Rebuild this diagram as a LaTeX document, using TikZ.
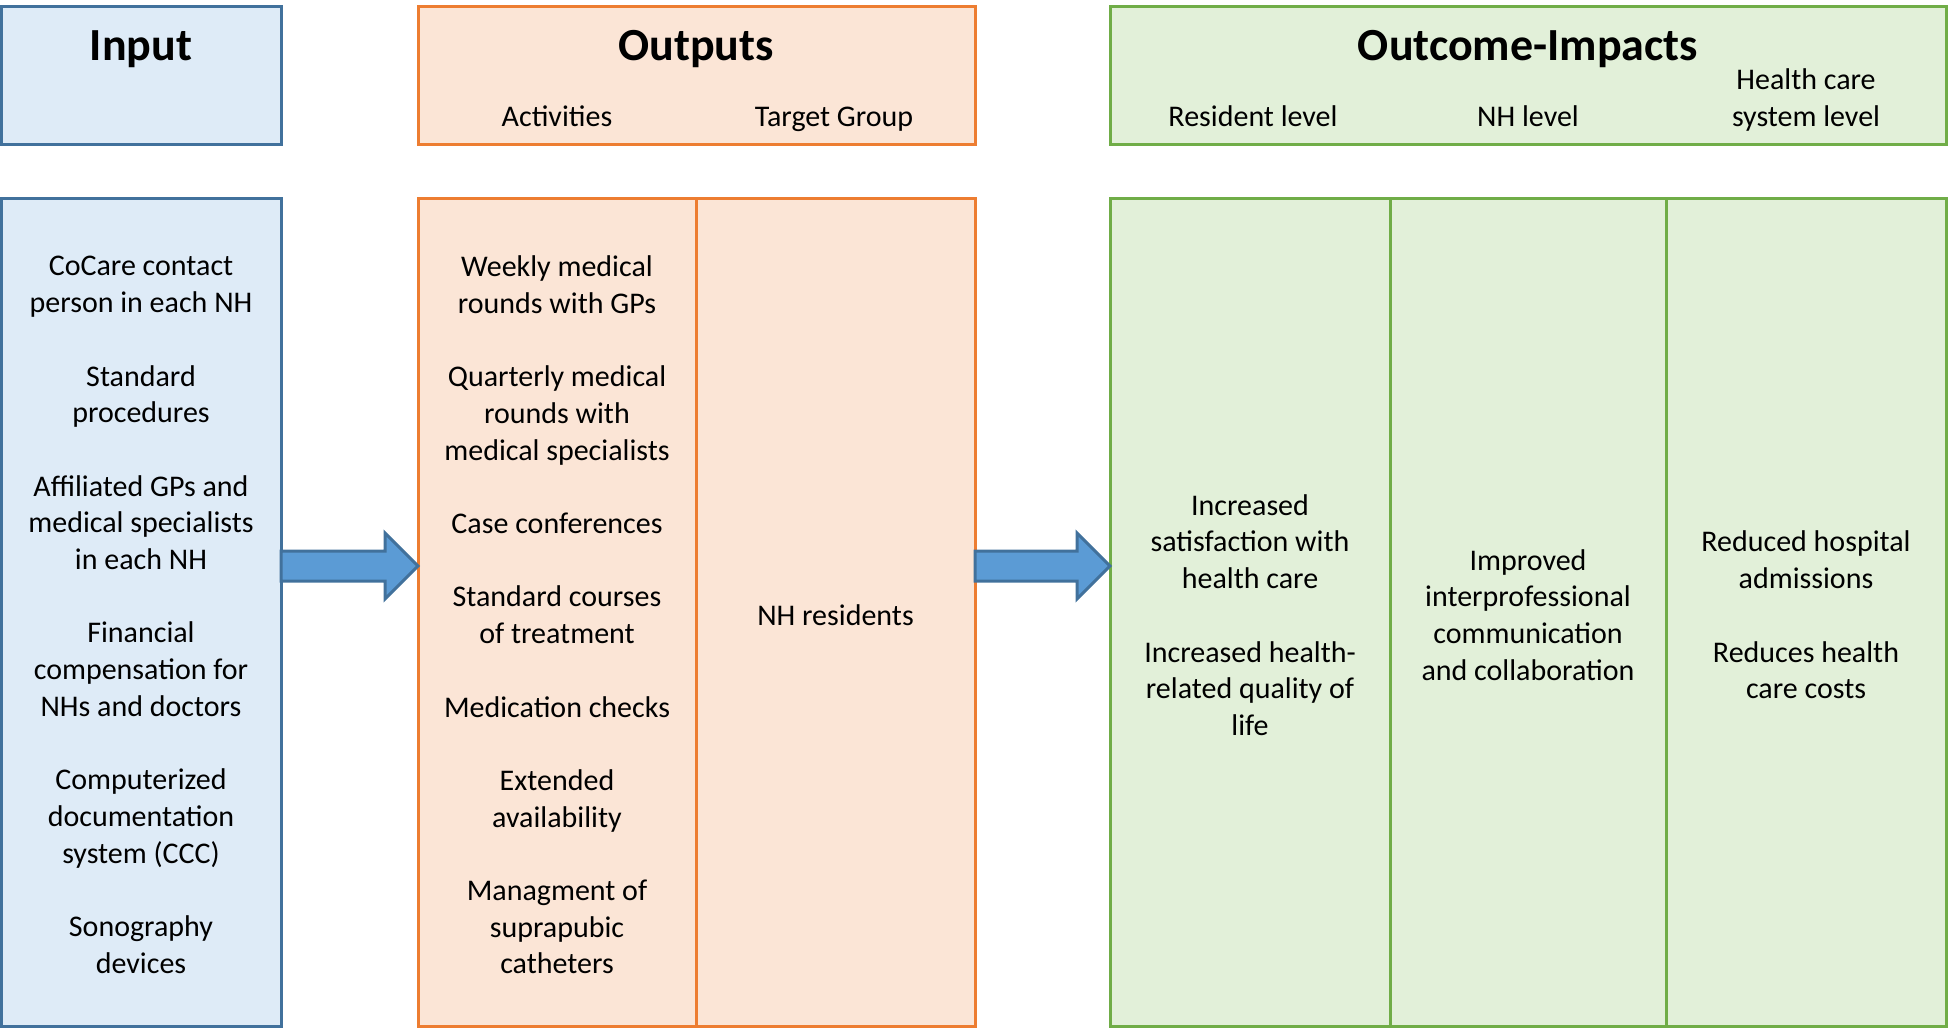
\documentclass[tikz,border=0pt]{standalone}
\usepackage{fontspec}
\setmainfont{Carlito}
\usetikzlibrary{positioning,calc,fit}
\definecolor{InFill}{RGB}{222,235,247}
\definecolor{InEdge}{RGB}{65,113,156}
\definecolor{OutFill}{RGB}{251,229,214}
\definecolor{OutEdge}{RGB}{237,125,49}
\definecolor{ImpFill}{RGB}{226,240,217}
\definecolor{ImpEdge}{RGB}{112,173,71}
\definecolor{ArrBlue}{RGB}{91,155,213}
\tikzset{
  box/.style={draw,line width=1.5pt,inner sep=0pt,outer sep=0pt},
  inbox/.style={box,draw=InEdge,fill=InFill},
  outbox/.style={box,draw=OutEdge,fill=OutFill},
  impbox/.style={box,draw=ImpEdge,fill=ImpFill},
  title/.style={font=\fontsize{23}{28}\selectfont\bfseries,anchor=base},
  txt/.style={font=\fontsize{15}{18.35}\selectfont,align=center},
  head/.style={txt,anchor=base},
  list/.style={txt,yshift=-1.5pt},
  bigarrow/.style={draw=InEdge,fill=ArrBlue,line width=1.5pt,line join=miter},
}

\begin{document}
\begin{tikzpicture}[x=0.5pt,y=-0.5pt]
\useasboundingbox (0,0) rectangle (1953,1029);
% header boxes
\node[inbox,fit={(1,6) (281,144)}] (inhead) {};
\node[outbox,fit={(418,6) (975,144)}] (outhead) {};
\node[impbox,fit={(1110,6) (1946,144)}] (imphead) {};
% body boxes
\node[inbox,fit={(1,198) (281,1026)}] (inbody) {};
\node[outbox,fit={(418,198) (696,1026)}] (actbody) {};
\node[outbox,fit={(696,198) (975,1026)}] (tgbody) {};
\node[impbox,fit={(1110,198) (1390,1026)}] (resbody) {};
\node[impbox,fit={(1390,198) (1666,1026)}] (nhbody) {};
\node[impbox,fit={(1666,198) (1946,1026)}] (sysbody) {};
% header texts
\node[title] (intitle) at (141,60) {Input};
\node[title] (outtitle) at (696,60) {Outputs};
\node[title] (imptitle) at (1528,60) {Outcome-Impacts};
\node[head] (acthead) at (557,126) {Activities};
\node[head] (tghead) at (834,126) {Target Group};
\node[head] (reshead) at (1253,126) {Resident level};
\node[head] (nhhead) at (1528,126) {NH level};
\node[head] (syshead) at (1806,126) {Health care\\system level};
% body texts
\node[list] (inlist) at (inbody.center) {CoCare contact\\person in each NH\\[18.35pt]Standard\\procedures\\[18.35pt]Affiliated GPs and\\medical specialists\\in each NH\\[18.35pt]Financial\\compensation for\\NHs and doctors\\[18.35pt]Computerized\\documentation\\system (CCC)\\[18.35pt]Sonography\\devices};
\node[list] (actlist) at (actbody.center) {Weekly medical\\rounds with GPs\\[18.35pt]Quarterly medical\\rounds with\\medical specialists\\[18.35pt]Case conferences\\[18.35pt]Standard courses\\of treatment\\[18.35pt]Medication checks\\[18.35pt]Extended\\availability\\[18.35pt]Managment of\\suprapubic\\catheters};
\node[list] (tglist) at (tgbody.center) {NH residents};
\node[list] (reslist) at (resbody.center) {Increased\\satisfaction with\\health care\\[18.35pt]Increased health-\\related quality of\\life};
\node[list] (nhlist) at (nhbody.center) {Improved\\interprofessional\\communication\\and collaboration};
\node[list] (syslist) at (sysbody.center) {Reduced hospital\\admissions\\[18.35pt]Reduces health\\care costs};
% arrows
\coordinate (midy) at (0,566);
\coordinate (a1s) at (inbody.east |- midy);
\coordinate (a1e) at (actbody.west |- midy);
\coordinate (a2s) at (tgbody.east |- midy);
\coordinate (a2e) at (resbody.west |- midy);
\draw[bigarrow] ($(a1s)+(0,-15)$) -- ($(a1e)+(-33,-15)$) -- ($(a1e)+(-33,-33)$) -- (a1e)
  -- ($(a1e)+(-33,33)$) -- ($(a1e)+(-33,15)$) -- ($(a1s)+(0,15)$) -- cycle;
\draw[bigarrow] ($(a2s)+(0,-15)$) -- ($(a2e)+(-33,-15)$) -- ($(a2e)+(-33,-33)$) -- (a2e)
  -- ($(a2e)+(-33,33)$) -- ($(a2e)+(-33,15)$) -- ($(a2s)+(0,15)$) -- cycle;
\end{tikzpicture}
\end{document}
